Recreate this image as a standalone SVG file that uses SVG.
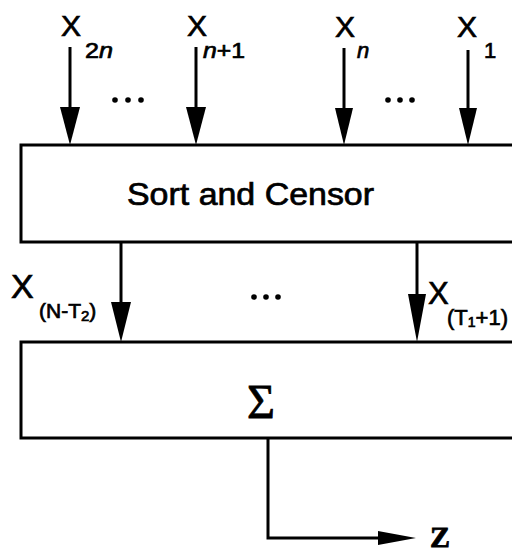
<svg xmlns="http://www.w3.org/2000/svg" width="512" height="553" viewBox="0 0 512 553">
  <style>
    .box { fill: #fff; stroke: #000; stroke-width: 3; }
    .wire { fill: none; stroke: #000; stroke-width: 3; }
    .head { fill: #000; }
    .sans { font-family: "Liberation Sans", Arial, sans-serif; fill: #000; stroke: #000; stroke-width: 0.7; }
    .serif { font-family: "Liberation Serif", "Times New Roman", serif; fill: #000; stroke: #000; stroke-width: 0.8; }
    .big { font-size: 30px; }
    .sub { font-size: 22px; }
    .dot { fill: #000; }
  </style>
  <rect width="512" height="553" fill="#fff"/>

  <!-- sorting / censoring block -->
  <g id="sort-censor">
    <path class="box" d="M514 145 H21 V242 H514"/>
    <text class="sans" x="127" y="205" font-size="31" textLength="247" lengthAdjust="spacingAndGlyphs">Sort and Censor</text>
  </g>

  <!-- summation block -->
  <g id="summation">
    <path class="box" d="M514 342 H21 V438 H514"/>
    <text class="serif" x="261" y="418" font-size="48" text-anchor="middle">Σ</text>
  </g>

  <!-- input labels -->
  <g id="input-x2n">
    <text class="sans big" x="61" y="36">X</text>
    <text class="sans sub" x="85" y="58" textLength="28" lengthAdjust="spacingAndGlyphs">2<tspan font-style="italic">n</tspan></text>
  </g>
  <g id="input-xn1">
    <text class="sans big" x="187" y="36">X</text>
    <text class="sans sub" x="203" y="58" textLength="42" lengthAdjust="spacingAndGlyphs"><tspan font-style="italic">n</tspan>+1</text>
  </g>
  <g id="input-xn">
    <text class="sans big" x="335" y="37">X</text>
    <text class="sans sub" x="357" y="58" font-style="italic">n</text>
  </g>
  <g id="input-x1">
    <text class="sans big" x="457" y="37">X</text>
    <text class="sans sub" x="484" y="58">1</text>
  </g>

  <!-- ordered-statistic labels -->
  <g id="label-xnt2">
    <text class="sans" x="11" y="298" font-size="34">X</text>
    <text class="sans" x="39" y="318" font-size="21">(N-T<tspan font-size="15" dy="3">2</tspan><tspan dy="-3">)</tspan></text>
  </g>
  <g id="label-xt11">
    <text class="sans" x="428" y="304" font-size="31">X</text>
    <text class="sans" x="447" y="325" font-size="22">(T<tspan font-size="14" dy="2">1</tspan><tspan dy="-2">+1)</tspan></text>
  </g>

  <!-- output label -->
  <g id="output-z">
    <text class="serif" x="430" y="547" font-size="30" font-weight="bold">Z</text>
  </g>

  <!-- ellipses -->
  <g id="ellipses">
    <circle class="dot" cx="115" cy="100" r="2.8"/>
    <circle class="dot" cx="128" cy="100" r="2.8"/>
    <circle class="dot" cx="141" cy="100" r="2.8"/>
    <circle class="dot" cx="388" cy="100" r="2.8"/>
    <circle class="dot" cx="400" cy="100" r="2.8"/>
    <circle class="dot" cx="412" cy="100" r="2.8"/>
    <circle class="dot" cx="254" cy="297" r="2.8"/>
    <circle class="dot" cx="266" cy="297" r="2.8"/>
    <circle class="dot" cx="278" cy="297" r="2.8"/>
  </g>

  <!-- connectors -->
  <g id="connectors">
    <line class="wire" x1="70" y1="47" x2="70" y2="110"/>
    <polygon class="head" points="60,107 80,107 70,145"/>
    <line class="wire" x1="196" y1="47" x2="196" y2="110"/>
    <polygon class="head" points="186,107 206,107 196,145"/>
    <line class="wire" x1="344" y1="48" x2="344" y2="110"/>
    <polygon class="head" points="335,108 353,108 344,145"/>
    <line class="wire" x1="468" y1="50" x2="468" y2="110"/>
    <polygon class="head" points="459,108 477,108 468,145"/>

    <line class="wire" x1="121" y1="243" x2="121" y2="305"/>
    <polygon class="head" points="111,302 131,302 121,342"/>
    <line class="wire" x1="417" y1="243" x2="417" y2="297"/>
    <polygon class="head" points="408,294 426,294 417,342"/>

    <polyline class="wire" points="268,438 268,538 382,538"/>
    <polygon class="head" points="378,531 416,538 378,545"/>
  </g>
</svg>
